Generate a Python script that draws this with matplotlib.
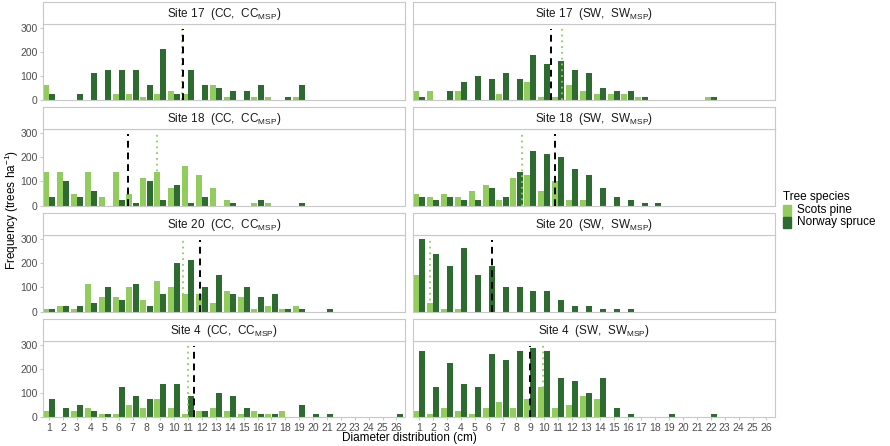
import matplotlib
matplotlib.use("Agg")
import matplotlib.pyplot as plt
import numpy as np

plt.rcParams['font.family'] = ['Liberation Sans', 'DejaVu Sans']
plt.rcParams['mathtext.default'] = 'regular'

classes = list(range(1, 27))

def full(d):
    return [d.get(c, 0) for c in classes]

# ---- data (trees/ha per diameter class) ----
s17cc_pine = full({1: 62.5, 6: 25, 7: 25, 8: 12.5, 9: 25, 10: 37.5, 11: 25, 13: 62.5, 14: 12.5, 16: 12.5, 17: 12.5, 19: 12.5})
s17cc_spruce = full({1: 25, 3: 25, 4: 112.5, 5: 125, 6: 125, 7: 125, 8: 62.5, 9: 212.5, 10: 25, 11: 125, 12: 62.5, 13: 50, 14: 37.5, 15: 37.5, 16: 62.5, 18: 12.5, 19: 62.5})
s17sw_pine = full({1: 37.5, 2: 37.5, 4: 37.5, 7: 25, 9: 75, 10: 12.5, 11: 12.5, 12: 62.5, 13: 37.5, 14: 25, 15: 25, 16: 25, 17: 12.5, 22: 12.5})
s17sw_spruce = full({1: 12.5, 3: 37.5, 4: 75, 5: 100, 6: 87.5, 7: 112.5, 8: 87.5, 9: 187.5, 10: 150, 11: 162.5, 12: 125, 13: 112.5, 14: 50, 15: 37.5, 16: 37.5, 17: 12.5, 22: 12.5})
s18cc_pine = full({1: 137.5, 2: 137.5, 3: 50, 4: 137.5, 5: 37.5, 6: 137.5, 7: 50, 8: 112.5, 9: 137.5, 10: 75, 11: 162.5, 12: 125, 13: 75, 14: 25, 16: 12.5, 17: 12.5})
s18cc_spruce = full({1: 37.5, 2: 100, 3: 37.5, 4: 62.5, 6: 25, 7: 12.5, 8: 100, 9: 25, 10: 87.5, 11: 12.5, 12: 37.5, 14: 12.5, 16: 25, 19: 12.5})
s18sw_pine = full({1: 50, 2: 37.5, 3: 50, 4: 37.5, 5: 62.5, 6: 87.5, 7: 25, 8: 112.5, 9: 125, 10: 62.5, 11: 100, 12: 25, 13: 25})
s18sw_spruce = full({1: 37.5, 2: 25, 3: 37.5, 4: 25, 5: 25, 6: 75, 7: 37.5, 8: 137.5, 9: 225, 10: 212.5, 11: 200, 12: 150, 13: 125, 14: 75, 15: 37.5, 16: 25, 17: 12.5, 18: 12.5})
s20cc_pine = full({1: 12.5, 2: 25, 3: 12.5, 4: 112.5, 5: 62.5, 6: 62.5, 7: 100, 8: 50, 9: 125, 10: 100, 11: 75, 12: 75, 13: 37.5, 14: 87.5, 15: 62.5, 16: 12.5, 17: 25, 18: 12.5, 19: 25})
s20cc_spruce = full({1: 12.5, 2: 25, 3: 25, 4: 37.5, 5: 100, 6: 50, 7: 112.5, 8: 25, 9: 75, 10: 200, 11: 212.5, 12: 100, 13: 150, 14: 75, 15: 100, 16: 62.5, 17: 75, 18: 12.5, 19: 12.5, 21: 12.5})
s20sw_pine = full({1: 150, 2: 37.5, 3: 12.5, 4: 12.5})
s20sw_spruce = full({1: 300, 2: 237.5, 3: 187.5, 4: 262.5, 5: 150, 6: 187.5, 7: 100, 8: 100, 9: 87.5, 10: 87.5, 11: 50, 12: 25, 13: 25, 14: 12.5, 15: 12.5, 16: 12.5})
s4cc_pine = full({1: 25, 3: 25, 4: 37.5, 5: 12.5, 6: 12.5, 7: 50, 8: 37.5, 9: 75, 10: 37.5, 11: 12.5, 12: 25, 13: 37.5, 14: 25, 15: 12.5, 16: 25, 17: 12.5, 18: 25})
s4cc_spruce = full({1: 75, 2: 37.5, 3: 50, 4: 25, 5: 12.5, 6: 125, 7: 87.5, 8: 75, 9: 137.5, 10: 137.5, 11: 87.5, 12: 25, 13: 100, 14: 87.5, 15: 37.5, 16: 12.5, 17: 12.5, 19: 50, 20: 12.5, 21: 12.5, 26: 12.5})
s4sw_pine = full({1: 25, 2: 12.5, 3: 37.5, 4: 25, 5: 12.5, 6: 37.5, 7: 62.5, 8: 37.5, 9: 75, 10: 125, 11: 37.5, 12: 50, 13: 87.5, 14: 75})
s4sw_spruce = full({1: 275, 2: 125, 3: 225, 4: 137.5, 5: 125, 6: 262.5, 7: 237.5, 8: 275, 9: 287.5, 10: 275, 11: 162.5, 12: 150, 13: 100, 14: 162.5, 15: 37.5, 16: 12.5, 19: 12.5, 22: 12.5})

# mean diameter lines: dashed black (stand), dotted green (MSP)
dashed_x = [10.65, 10.51, 6.67, 10.8, 11.88, 6.23, 11.4, 8.94]
dotted_x = [10.55, 11.28, 8.76, 8.41, 10.63, 1.75, 10.97, 9.9]

site_names = ["17", "18", "20", "4"]
panel_pine = [s17cc_pine, s17sw_pine, s18cc_pine, s18sw_pine, s20cc_pine, s20sw_pine, s4cc_pine, s4sw_pine]
panel_spruce = [s17cc_spruce, s17sw_spruce, s18cc_spruce, s18sw_spruce, s20cc_spruce, s20sw_spruce, s4cc_spruce, s4sw_spruce]

PINE = "#92CC5C"
SPRUCE = "#2E6B30"
BORDER = "#C8C8C8"
TXT = "#4D4D4D"

W, H = 890, 446
fig = plt.figure(figsize=(W / 100, H / 100), dpi=100)

def fr(x0, y0, x1, y1):
    return [x0 / W, 1 - y1 / H, (x1 - x0) / W, (y1 - y0) / H]

cols = [(43, 405), (413, 775)]
rows = [(2, 24, 100), (107, 129, 206), (213, 235, 312), (319, 341, 417)]

x = np.array(classes)
for r, (st, pt, pb) in enumerate(rows):
    for c, (x0, x1) in enumerate(cols):
        i = r * 2 + c
        ax = fig.add_axes(fr(x0, pt, x1, pb))
        ax.bar(x - 0.225, panel_pine[i], width=0.43, color=PINE, edgecolor='none', zorder=2)
        ax.bar(x + 0.225, panel_spruce[i], width=0.43, color=SPRUCE, edgecolor='none', zorder=2)
        ax.plot([dotted_x[i]] * 2, [0, 300], color=PINE, lw=1.3, ls=(0, (1, 2.2)), zorder=3)
        ax.plot([dashed_x[i]] * 2, [0, 295], color='black', lw=1.4, ls=(0, (3.5, 2.5)), zorder=4)
        ax.set_xlim(0.55, 26.62)
        ax.set_ylim(-1, 316)
        for s in ax.spines.values():
            s.set_color(BORDER)
            s.set_linewidth(0.8)
        ax.set_xticks(classes)
        ax.set_yticks([0, 100, 200, 300])
        ax.tick_params(colors=BORDER, length=2.5, width=0.8, labelcolor=TXT, labelsize=7.5, pad=1.5)
        if r < 3:
            ax.tick_params(axis='x', length=0, labelbottom=False)
        else:
            ax.set_xticklabels([str(k) for k in classes])
        if c == 1:
            ax.tick_params(axis='y', length=0, labelleft=False)
        # strip
        sax = fig.add_axes(fr(x0, st, x1, pt))
        sax.set_xticks([]); sax.set_yticks([])
        sax.set_facecolor('white')
        for s in sax.spines.values():
            s.set_color(BORDER)
            s.set_linewidth(0.8)
        trt = "CC" if c == 0 else "SW"
        sax.text(0.5, 0.45, f"Site {site_names[r]}  ({trt},  {trt}$_{{MSP}}$)",
                 ha='center', va='center', fontsize=8.5, color='#1A1A1A', transform=sax.transAxes)

fig.text(409 / W, 1 - 438 / H, "Diameter distribution (cm)", ha='center', va='center', fontsize=8.5, color='black')
fig.text(12 / W, 1 - 210 / H, "Frequency (trees ha$^{-1}$)", ha='center', va='center', rotation=90, fontsize=8.5, color='black')

# legend
fig.text(783 / W, 1 - 197 / H, "Tree species", ha='left', va='center', fontsize=8.5, color='black')
for k, (lab, colr) in enumerate([("Scots pine", PINE), ("Norway spruce", SPRUCE)]):
    yc = 210 + k * 12
    fig.patches.append(plt.Rectangle((783 / W, 1 - (yc + 5.5) / H), 8 / W, 11 / H,
                                     transform=fig.transFigure, color=colr, figure=fig))
    fig.text(797 / W, 1 - yc / H, lab, ha='left', va='center', fontsize=8.5, color='black')

fig.savefig("out.png", dpi=100)
